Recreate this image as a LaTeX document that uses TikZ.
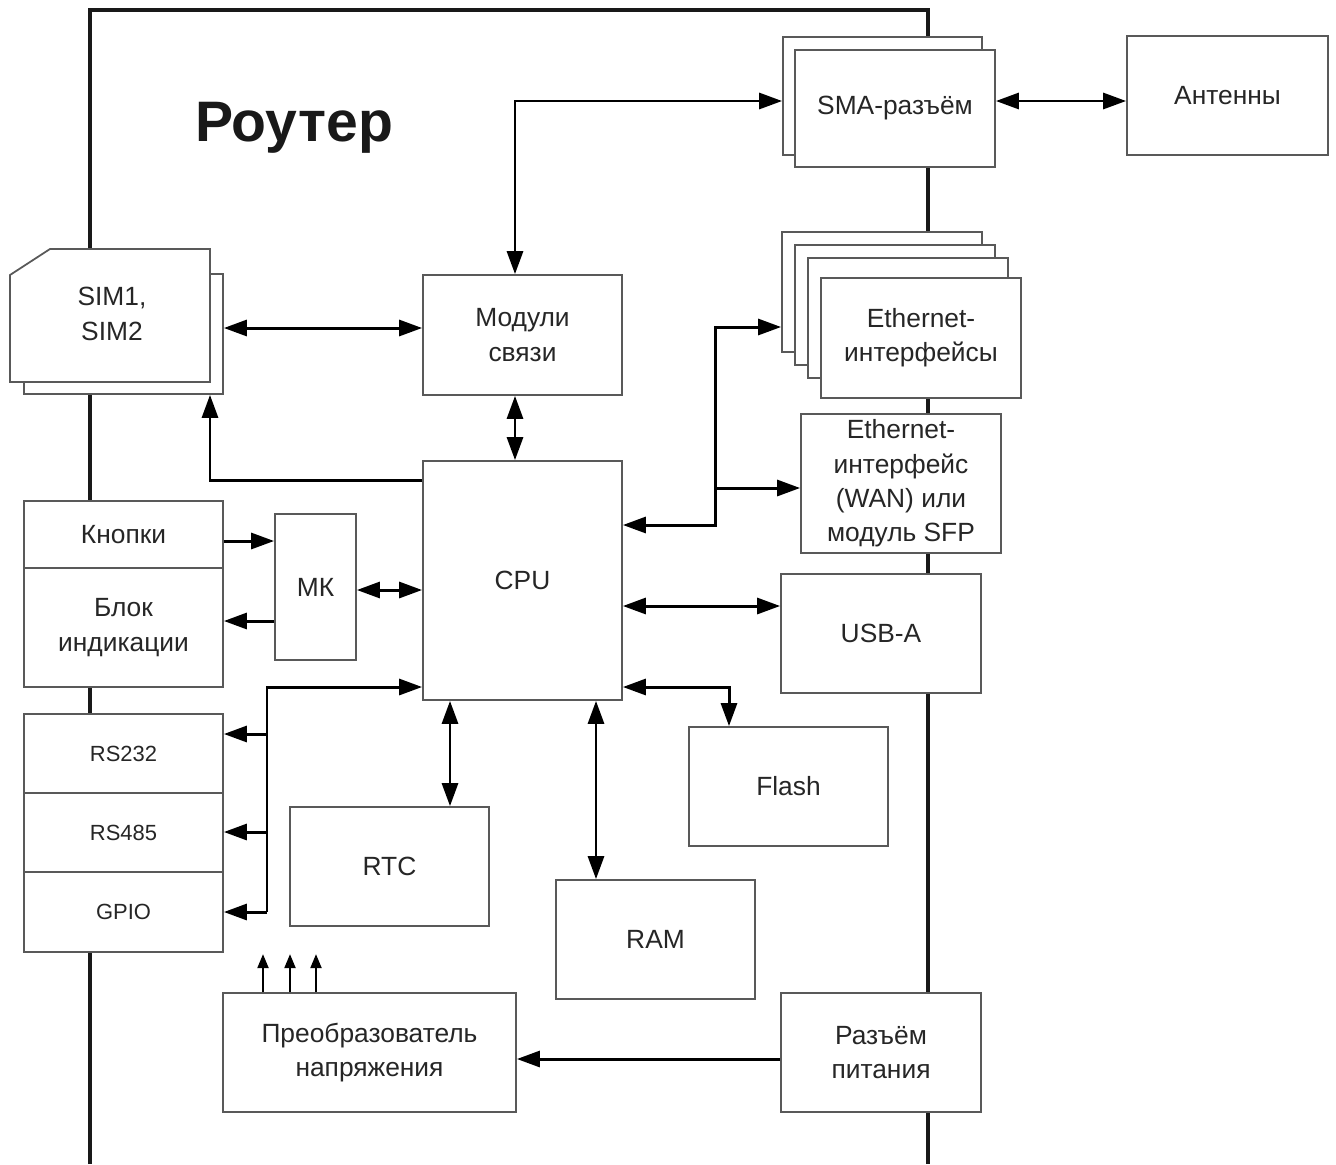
\documentclass[tikz,border=0pt]{standalone}
\usepackage{fontspec}
\setmainfont{Liberation Sans}
\usetikzlibrary{arrows.meta}
\tikzset{
  box/.style={draw=black!65, line width=1pt, fill=white, inner sep=0pt, align=center,
    text=black!85, font=\fontsize{15}{19.5}\selectfont},
  blk/.style 2 args={box, minimum width=#1*0.02cm, minimum height=#2*0.02cm},
  small/.style={font=\fontsize{12.5}{15}\selectfont},
  arr/.style={line width=1.7pt, -{Triangle[length=0.46cm,width=0.32cm]}},
  bi/.style={line width=1.7pt, {Triangle[length=0.46cm,width=0.32cm]}-{Triangle[length=0.46cm,width=0.32cm]}},
  uparr/.style={line width=1.2pt, -{Triangle[length=0.28cm,width=0.22cm]}},
  frame/.style={line width=2.4pt, black!90}
}
\begin{document}
\begin{tikzpicture}[x=0.02cm, y=-0.02cm]
            \useasboundingbox (0,0) rectangle (1336,1164);
            \draw [frame] (90,1164) -- (90,10) -- (928,10) -- (928,1164);
            \node [font=\fontsize{32.5}{36}\selectfont\bfseries, text=black!90] (title) at (294,128) {Роутер};

            \node [blk={199}{120}] (simb) at (123.5,334) {};
            \filldraw [draw=black!65, fill=white, line width=1pt] (10,382) -- (10,275) -- (50,249) -- (210,249) -- (210,382) -- cycle;
            \node [box, draw=none, fill=none] (sim) at (112,314) {SIM1,\\SIM2};

            \node [blk={199}{118}] (smab) at (882.5,96) {};
            \node [blk={200}{117}] (sma) at (895,108.5) {SMA-разъём};
            \node [blk={201}{119}] (ant) at (1227.5,95.5) {Антенны};

            \node [blk={199}{120}] (mod) at (522.5,335) {Модули\\связи};
            \node [blk={199}{239}] (cpu) at (522.5,580.5) {CPU};

            \node [blk={200}{120}] (e1) at (882,292) {};
            \node [blk={200}{120}] (e2) at (895,305) {};
            \node [blk={200}{120}] (e3) at (908,318) {};
            \node [blk={200}{120}] (e4) at (921,338) {Ethernet-\\интерфейсы};
            \node [blk={200}{139}] (wan) at (901,483.5) {Ethernet-\\интерфейс\\(WAN) или\\модуль SFP};
            \node [blk={200}{119}] (usb) at (881,633.5) {USB-A};
            \node [blk={199}{119}] (flash) at (788.5,786.5) {Flash};
            \node [blk={199}{119}] (ram) at (655.5,939.5) {RAM};
            \node [blk={199}{119}] (rtc) at (389.5,866.5) {RTC};

            \node [blk={199}{67}] (btn) at (123.5,534.5) {Кнопки};
            \node [blk={199}{119}] (ind) at (123.5,627.5) {Блок\\индикации};
            \node [blk={81}{146}] (mk) at (315.5,587) {МК};
            \node [blk={199}{79}, small] (rs232) at (123.5,753.5) {RS232};
            \node [blk={199}{79}, small] (rs485) at (123.5,832.5) {RS485};
            \node [blk={199}{80}, small] (gpio) at (123.5,912) {GPIO};

            \node [blk={293}{119}] (conv) at (369.5,1052.5) {Преобразователь\\напряжения};
            \node [blk={200}{119}] (pwr) at (881,1052.5) {Разъём\\питания};

            \draw [bi] (sma.east |- 0,101) -- (ant.west |- 0,101);
            \draw [bi] (mod.north -| 515,0) |- (smab.west |- 0,101);
            \draw [bi] (simb.east |- 0,328) -- (mod.west |- 0,328);
            \draw [bi] (mod.south -| 515,0) -- (cpu.north -| 515,0);
            \draw [arr] (cpu.west |- 0,480) -| (simb.south -| 210,0);

            \draw [bi] (cpu.east |- 0,525) -- ++(93,0) |- (e1.west |- 0,327);
            \draw [arr] (715,488) -- (wan.west |- 0,488);
            \draw [bi] (cpu.east |- 0,606) -- (usb.west |- 0,606);
            \draw [bi] (cpu.east |- 0,687) -| (flash.north -| 729,0);
            \draw [bi] (cpu.south -| 596,0) -- (ram.north -| 596,0);
            \draw [bi] (cpu.south -| 450,0) -- (rtc.north -| 450,0);

            \draw [arr] (btn.east |- 0,541) -- (mk.west |- 0,541);
            \draw [arr] (mk.west |- 0,621) -- (ind.east |- 0,621);
            \draw [bi] (mk.east |- 0,590) -- (cpu.west |- 0,590);

            \coordinate (bus) at (267,912);
            \draw [arr] (bus) |- (cpu.west |- 0,687);
            \foreach \n/\y in {rs232/734, rs485/832, gpio/912}
                \draw [arr] (bus |- 0,\y) -- (\n.east |- 0,\y);

            \draw [arr] (pwr.west |- 0,1059) -- (conv.east |- 0,1059);
            \foreach \x in {263,290,316}
                \draw [uparr] (conv.north -| \x,0) -- ++(0,-38);
\end{tikzpicture}
\end{document}
